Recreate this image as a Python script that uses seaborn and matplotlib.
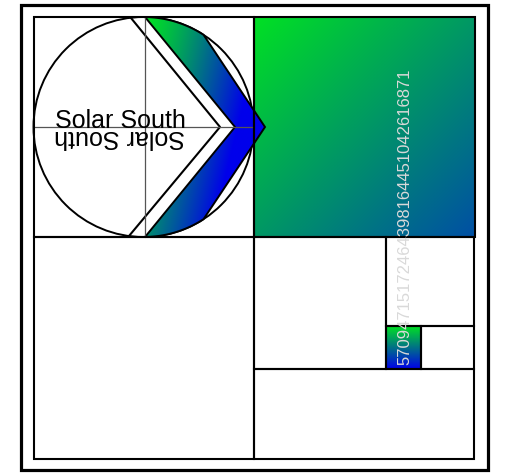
import numpy as np
import matplotlib
matplotlib.use("Agg")
import matplotlib.pyplot as plt
import seaborn as sns
from matplotlib.patches import Circle, Polygon, Rectangle

# ------------------------------
# chart content
# ------------------------------
label_text = "Solar South"
code_text = "57094715172464398164451042616871"

# cells of the split layout (x0, y0, x1, y1) in pixel units
cells_x0 = [33.5, 253.5, 33.5, 253.5, 386.0, 386.0, 421.0, 253.5]
cells_y0 = [17.5, 17.5, 238.0, 238.0, 238.0, 327.0, 327.0, 370.0]
cells_x1 = [253.5, 475.0, 253.5, 386.0, 473.5, 421.0, 473.5, 473.5]
cells_y1 = [238.0, 238.0, 459.5, 370.0, 327.0, 370.0, 370.0, 459.5]
cells_fill = ["none", "diag", "none", "none", "none", "vert", "none", "none"]

GREEN = np.array([0, 225, 35]) / 255
BLUE = np.array([0, 0, 235]) / 255

sns.set_theme(style="white")
plt.rcParams["font.family"] = ["Liberation Sans", "DejaVu Sans"]

W, H = 520, 477
fig = plt.figure(figsize=(5.2, 4.77), dpi=100)
ax = fig.add_axes([0, 0, 1, 1])


def gradient(x0, y0, x1, y1, fn, clip=None, z=1):
    X, Y = np.meshgrid(np.linspace(x0, x1, 300), np.linspace(y0, y1, 300))
    t = np.clip(fn(X, Y), 0, 1)[..., None]
    rgb = GREEN * (1 - t) + BLUE * t
    im = ax.imshow(rgb, extent=(x0, x1, y1, y0), origin="upper",
                   interpolation="bilinear", zorder=z)
    if clip is not None:
        im.set_clip_path(clip)
    return im


def hit_circle(p, d, c, r, far=True):
    p, d, c = np.array(p, float), np.array(d, float), np.array(c, float)
    d = d / np.linalg.norm(d)
    f = p - c
    b = np.dot(f, d)
    disc = b * b - (np.dot(f, f) - r * r)
    s = -b + np.sqrt(disc) if far else -b - np.sqrt(disc)
    return p + s * d


# ------------------------------
# cells
# ------------------------------
for x0, y0, x1, y1, fill in zip(cells_x0, cells_y0, cells_x1, cells_y1, cells_fill):
    if fill == "diag":
        gradient(x0, y0, x1, y1,
                 lambda X, Y, x0=x0, y0=y0, x1=x1, y1=y1:
                 0.65 * ((X - x0) / (x1 - x0) + (Y - y0) / (y1 - y0)) / 2)
    elif fill == "vert":
        gradient(x0, y0, x1, y1,
                 lambda X, Y, y0=y0, y1=y1: (Y - y0) / (y1 - y0))
    ax.add_patch(Rectangle((x0, y0), x1 - x0, y1 - y0, fill=False,
                           edgecolor="black", linewidth=1.5, zorder=5))

# outer frame
ax.add_patch(Rectangle((20.5, 5.5), 467.5, 465, fill=False,
                       edgecolor="black", linewidth=2.3, zorder=5))

# ------------------------------
# circle with chevrons
# ------------------------------
cx, cy, r = 143.5, 128.0, 110.0
ax.add_patch(Circle((cx, cy), r, fill=False, edgecolor="black",
                    linewidth=1.4, zorder=2))

# thin white chevron line
a_top = hit_circle((220, 128), (-89, -109), (cx, cy), r)
a_bot = hit_circle((220, 128), (-91, 109), (cx, cy), r)
ax.plot([a_top[0], 220, a_bot[0]], [a_top[1], 128, a_bot[1]],
        color="black", linewidth=1.5, zorder=3)

# gradient chevron clipped by the circle
b_top = hit_circle((235, 128), (-90, -110), (cx, cy), r)
b_bot = hit_circle((235, 128), (-90, 110), (cx, cy), r)
r_top = hit_circle((265, 128), (-12, -18), (cx, cy), r)
r_bot = hit_circle((265, 128), (-12, 18), (cx, cy), r)


def ang(p):
    return np.arctan2(p[1] - cy, p[0] - cx)


th1 = np.linspace(ang(b_top), ang(r_top), 40)
th2 = np.linspace(ang(r_bot), ang(b_bot), 40)
verts = ([(cx + r * np.cos(t), cy + r * np.sin(t)) for t in th1]
         + [(265, 128)]
         + [(cx + r * np.cos(t), cy + r * np.sin(t)) for t in th2]
         + [(235, 128)])
chev = Polygon(verts, closed=True, fill=False, edgecolor="black",
               linewidth=1.4, zorder=4, transform=ax.transData)
ax.add_patch(chev)
gradient(140, 15, 268, 241,
         lambda X, Y: np.clip(0.75 * (X - 145) / 90 + 0.45 * (Y - 18) / 220, 0, 1) ** 1.25,
         clip=chev, z=3)

# crosshair
ax.plot([cx - r, cx + r], [cy, cy], color="#555555", linewidth=0.9, zorder=4.5)
ax.plot([145, 145], [cy - r, cy + r], color="#555555", linewidth=0.9, zorder=4.5)

# ------------------------------
# texts
# ------------------------------
ax.text(120, 127.5, label_text, fontsize=18, ha="center", va="baseline",
        color="black", zorder=6)
ax.text(120, 130.5, label_text, fontsize=18, ha="center", va="baseline",
        rotation=180, rotation_mode="anchor", color="black", zorder=6)
ax.text(405, 216.5, code_text, fontsize=12, ha="center", va="center",
        rotation=90, color="#d9d9d9", zorder=7)

ax.set_xlim(0, W)
ax.set_ylim(H, 0)
ax.set_aspect("auto")
ax.axis("off")

plt.savefig("out.png", dpi=100)
plt.close()
